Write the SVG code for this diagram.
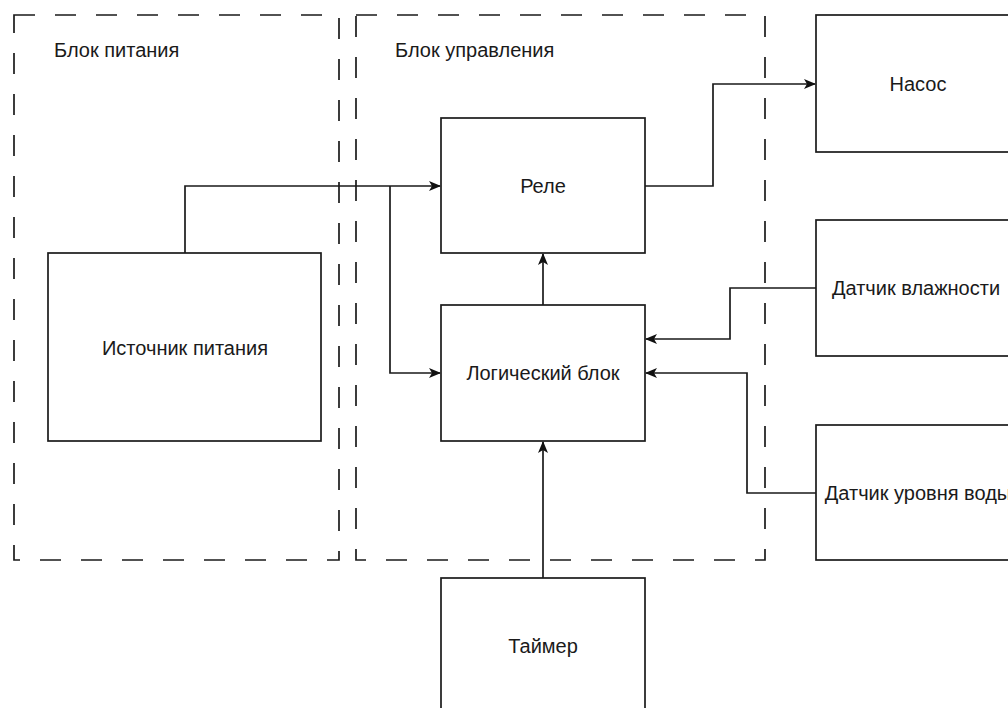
<svg xmlns="http://www.w3.org/2000/svg" width="1008" height="708" viewBox="0 0 1008 708">
<defs>
<marker id="arr" viewBox="0 0 12 10" refX="11" refY="5" markerWidth="12" markerHeight="10" markerUnits="userSpaceOnUse" orient="auto">
<path d="M0,0 L12,5 L0,10 L3,5 Z" fill="#111"/>
</marker>
</defs>
<style>
.box{fill:#fff;stroke:#1a1a1a;stroke-width:1.7}
.grp{fill:none;stroke:#1a1a1a;stroke-width:1.7;stroke-dasharray:21 20}
.t{font-family:"Liberation Sans",Arial,sans-serif;font-size:20px;fill:#1a1a1a}
.c{text-anchor:middle;dominant-baseline:central}
.e{fill:none;stroke:#1a1a1a;stroke-width:1.7;marker-end:url(#arr)}
</style>
<rect width="1008" height="708" fill="#fff"/>
<g id="power-group">
<rect class="grp" x="14" y="15" width="325" height="545"/>
<text class="t" x="54" y="57">Блок питания</text>
</g>
<g id="control-group">
<rect class="grp" x="356" y="15" width="409" height="545"/>
<text class="t" x="395" y="57">Блок управления</text>
</g>
<g id="connectors">
<polyline class="e" points="185,253 185,186 440,186"/>
<polyline class="e" points="390,186 390,373 440,373"/>
<polyline class="e" points="645,186 713,186 713,84 815,84"/>
<polyline class="e" points="543,305 543,254"/>
<polyline class="e" points="816,288 730,288 730,339 646,339"/>
<polyline class="e" points="816,493 747,493 747,373 646,373"/>
<polyline class="e" points="543,578 543,442"/>
</g>
<g id="source">
<rect class="box" x="48" y="253" width="273" height="188"/>
<text class="t c" x="185" y="348">Источник питания</text>
</g>
<g id="relay">
<rect class="box" x="441" y="118" width="204" height="135"/>
<text class="t c" x="543" y="186">Реле</text>
</g>
<g id="logic">
<rect class="box" x="441" y="305" width="204" height="136"/>
<text class="t c" x="543" y="373">Логический блок</text>
</g>
<g id="pump">
<rect class="box" x="816" y="15" width="204" height="137"/>
<text class="t c" x="918" y="84">Насос</text>
</g>
<g id="humidity">
<rect class="box" x="816" y="220" width="204" height="136"/>
<text class="t c" x="916" y="288">Датчик влажности</text>
</g>
<g id="level">
<rect class="box" x="816" y="425" width="204" height="135"/>
<text class="t c" x="918" y="493">Датчик уровня воды</text>
</g>
<g id="timer">
<rect class="box" x="441" y="578" width="204" height="140"/>
<text class="t c" x="543" y="646">Таймер</text>
</g>
</svg>
